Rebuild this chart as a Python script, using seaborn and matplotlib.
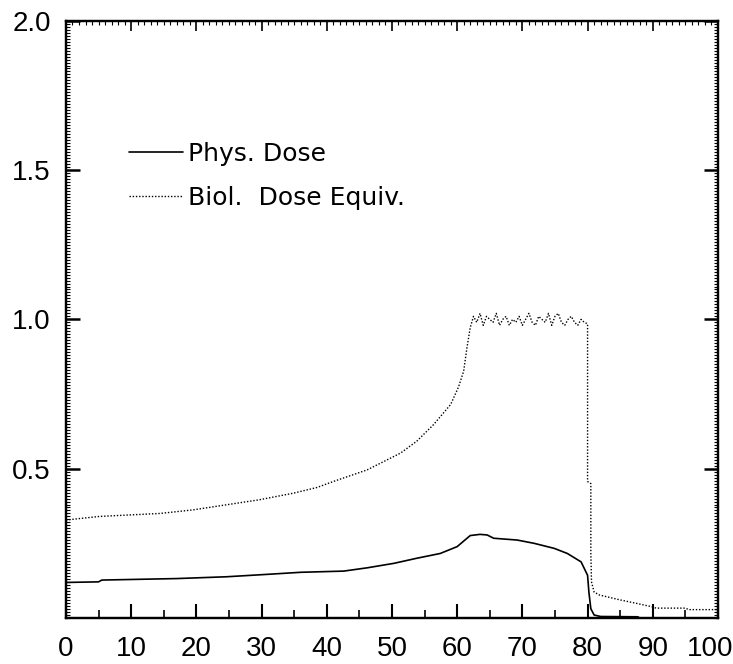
import matplotlib
matplotlib.use("Agg")
import matplotlib.pyplot as plt
import matplotlib.transforms as mtransforms
from matplotlib.ticker import MultipleLocator, FixedLocator
import pandas as pd
import seaborn as sns

# depth values
phys_x = [0, 5.0, 5.5, 17, 24.6, 30.8, 36, 42.6, 46.2, 50.3, 53.8, 57.4, 60, 62,
          63.5, 64.6, 65.6, 69.2, 71.8, 74.9, 76.9, 79, 80, 80.2, 80.5, 81, 82,
          87.7, 88, 100]
phys_y = [0.119, 0.121, 0.127, 0.132, 0.138, 0.146, 0.153, 0.157, 0.168, 0.183,
          0.200, 0.216, 0.239, 0.276, 0.280, 0.278, 0.267, 0.261, 0.250, 0.233,
          0.216, 0.188, 0.143, 0.087, 0.031, 0.010, 0.005, 0.004, 0.0, 0.0]

bio_rise_x = [0, 5.1, 14.4, 19.5, 24.6, 29.7, 34.9, 38.5, 41, 46.2, 51.3, 53.8,
              56.4, 59, 60.2, 61.0, 61.5, 62.0]
bio_rise_y = [0.328, 0.340, 0.350, 0.362, 0.379, 0.396, 0.418, 0.437, 0.457,
              0.496, 0.552, 0.592, 0.648, 0.715, 0.773, 0.827, 0.905, 0.972]
bio_plateau_x = [62.5, 63, 63.5, 64, 64.5, 65, 65.5, 66, 66.5, 67, 67.5, 68, 68.5,
                 69, 69.5, 70, 70.5, 71, 71.5, 72, 72.5, 73, 73.5, 74, 74.5, 75,
                 75.5, 76, 76.5, 77, 77.5, 78, 78.5, 79, 79.5]
bio_plateau_y = [1.01, 0.99, 1.02, 0.98, 1.01, 1.00, 0.99, 1.02, 0.98, 1.00, 1.01,
                 0.98, 1.00, 0.99, 1.01, 0.98, 1.00, 1.02, 0.99, 0.98, 1.01, 1.00,
                 0.99, 1.02, 0.98, 1.01, 1.02, 0.99, 0.98, 1.00, 1.01, 0.99, 0.98,
                 1.00, 0.99]
bio_tail_x = [80.0, 80.0, 80.5, 80.5, 80.6, 81, 81.8, 85.1, 87.7, 90, 90.5, 95,
              95.5, 100]
bio_tail_y = [0.985, 0.457, 0.450, 0.222, 0.121, 0.087, 0.077, 0.060, 0.048,
              0.037, 0.033, 0.033, 0.028, 0.028]

bio_x = bio_rise_x + bio_plateau_x + bio_tail_x
bio_y = bio_rise_y + bio_plateau_y + bio_tail_y

x_ticks = list(range(0, 101, 10))
y_ticks = [0.5, 1.0, 1.5, 2.0]
y_labels = ["0.5", "1.0", "1.5", "2.0"]

sns.set_style("white")
plt.rcParams['font.family'] = ['Liberation Sans', 'DejaVu Sans']
plt.rcParams['text.color'] = 'black'
plt.rcParams['xtick.color'] = 'black'
plt.rcParams['ytick.color'] = 'black'

fig = plt.figure(figsize=(7.33, 6.64), dpi=100)
ax = fig.add_axes([0.090, 0.0693, 0.8895, 0.8995])

phys = pd.DataFrame({"depth": phys_x, "dose": phys_y})
bio = pd.DataFrame({"depth": bio_x, "dose": bio_y})

sns.lineplot(data=phys, x="depth", y="dose", ax=ax, color="black", lw=1.2,
             estimator=None, sort=False, label="Phys. Dose")
sns.lineplot(data=bio, x="depth", y="dose", ax=ax, color="black", lw=1.0,
             ls=(0, (1, 1.3)), estimator=None, sort=False, label="Biol.  Dose Equiv.")

ax.set_xlim(0, 100)
ax.set_ylim(0, 2.0)
ax.set_xlabel("")
ax.set_ylabel("")

for sp in ax.spines.values():
    sp.set_visible(True)
    sp.set_color("black")
    sp.set_linewidth(1.6)

ax.xaxis.set_major_locator(FixedLocator(x_ticks))
ax.xaxis.set_minor_locator(MultipleLocator(5))
ax.set_xticklabels([str(t) for t in x_ticks])
ax.yaxis.set_major_locator(FixedLocator(y_ticks))
ax.yaxis.set_minor_locator(MultipleLocator(0.01))
ax.set_yticklabels(y_labels)

ax.tick_params(axis="x", which="major", direction="in", length=10, width=1.5,
               bottom=True, top=False, labelsize=20, pad=13, colors="black")
ax.tick_params(axis="x", which="minor", direction="in", length=6, width=1.2,
               bottom=True, top=False, colors="black")
ax.tick_params(axis="y", which="major", direction="in", length=10, width=1.8,
               left=True, right=True, labelsize=20, pad=11, colors="black")
ax.tick_params(axis="y", which="minor", direction="in", length=3, width=0.8,
               left=True, right=True, colors="black")

# keep "100" inside the canvas, as in the reference
last = ax.get_xticklabels()[-1]
last.set_transform(last.get_transform() +
                   mtransforms.ScaledTranslation(-6 / 72, 0, fig.dpi_scale_trans))

# top edge has its own finer tick pattern
top = ax.twiny()
top.set_xlim(0, 100)
top.xaxis.set_major_locator(MultipleLocator(10))
top.xaxis.set_minor_locator(MultipleLocator(1))
top.tick_params(axis="x", which="major", direction="in", length=7, width=1.2,
                labeltop=False, top=True, colors="black")
top.tick_params(axis="x", which="minor", direction="in", length=3, width=0.8,
                top=True, colors="black")
for sp in top.spines.values():
    sp.set_linewidth(1.6)
    sp.set_color("black")

leg = ax.legend(loc="upper left", bbox_to_anchor=(0.062, 0.835), frameon=False,
                handlelength=2.15, handletextpad=0.2, labelspacing=0.8,
                prop={"family": "DejaVu Sans", "size": 18})
for t in leg.get_texts():
    t.set_color("black")

fig.savefig("out.png", dpi=100)
